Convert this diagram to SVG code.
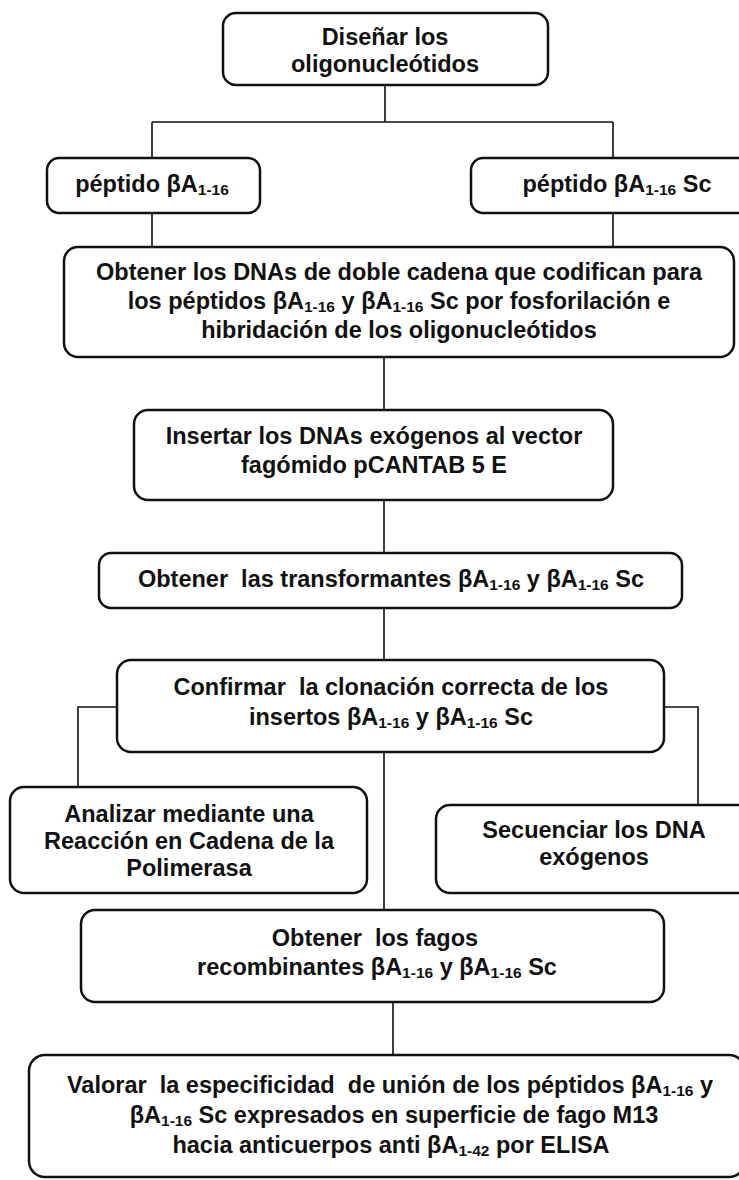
<svg xmlns="http://www.w3.org/2000/svg" width="739" height="1180" viewBox="0 0 739 1180">
<style>
.box{fill:#fff;stroke:#111;stroke-width:2.5}
.con{fill:none;stroke:#111;stroke-width:1.6}
text{font-family:"Liberation Sans",Arial,sans-serif;font-weight:bold;font-size:23.5px;fill:#111;text-anchor:middle}
.s{font-size:15.5px}
</style>
<rect width="739" height="1180" fill="#fff"/>
<g id="connectors">
<path class="con" d="M385,85V122M152,122H613M152,122V158M613,122V158"/>
<path class="con" d="M152,213V247M613,213V247"/>
<path class="con" d="M384,357V410"/>
<path class="con" d="M384,500V553"/>
<path class="con" d="M384,608V660"/>
<path class="con" d="M117,707H78V787M664,707H698V805M384,752V910"/>
<path class="con" d="M393,1002V1055"/>
</g>
<g id="n1">
<rect class="box" x="223" y="13" width="325" height="72" rx="13"/>
<text x="385" y="45">Diseñar los</text>
<text x="385" y="72">oligonucleótidos</text>
</g>
<g id="n2">
<rect class="box" x="47" y="158" width="213" height="55" rx="12"/>
<text x="152" y="192">péptido βA<tspan class="s" dy="3">1-16</tspan></text>
</g>
<g id="n3">
<rect class="box" x="471" y="158" width="300" height="55" rx="12"/>
<text x="617" y="192">péptido βA<tspan class="s" dy="3">1-16</tspan><tspan dy="-3"> Sc</tspan></text>
</g>
<g id="n4">
<rect class="box" x="64" y="247" width="670" height="110" rx="14"/>
<text x="399" y="280">Obtener los DNAs de doble cadena que codifican para</text>
<text x="399" y="309">los péptidos βA<tspan class="s" dy="3">1-16</tspan><tspan dy="-3"> y βA</tspan><tspan class="s" dy="3">1-16</tspan><tspan dy="-3"> Sc por fosforilación e</tspan></text>
<text x="399" y="338">hibridación de los oligonucleótidos</text>
</g>
<g id="n5">
<rect class="box" x="134" y="410" width="479" height="90" rx="14"/>
<text x="374" y="444">Insertar los DNAs exógenos al vector</text>
<text x="374" y="473">fagómido pCANTAB 5 E</text>
</g>
<g id="n6">
<rect class="box" x="99" y="553" width="583" height="55" rx="12"/>
<text x="391" y="587" xml:space="preserve">Obtener  las transformantes βA<tspan class="s" dy="3">1-16</tspan><tspan dy="-3"> y βA</tspan><tspan class="s" dy="3">1-16</tspan><tspan dy="-3"> Sc</tspan></text>
</g>
<g id="n7">
<rect class="box" x="117" y="660" width="547" height="92" rx="14"/>
<text x="391" y="695" xml:space="preserve">Confirmar  la clonación correcta de los</text>
<text x="391" y="725">insertos βA<tspan class="s" dy="3">1-16</tspan><tspan dy="-3"> y βA</tspan><tspan class="s" dy="3">1-16</tspan><tspan dy="-3"> Sc</tspan></text>
</g>
<g id="n8">
<rect class="box" x="10" y="787" width="357" height="106" rx="14"/>
<text x="189" y="822">Analizar mediante una</text>
<text x="189" y="849">Reacción en Cadena de la</text>
<text x="189" y="876">Polimerasa</text>
</g>
<g id="n9">
<rect class="box" x="436" y="805" width="330" height="88" rx="14"/>
<text x="594" y="838">Secuenciar los DNA</text>
<text x="594" y="865">exógenos</text>
</g>
<g id="n10">
<rect class="box" x="81" y="910" width="583" height="92" rx="14"/>
<text x="375" y="946" xml:space="preserve">Obtener  los fagos</text>
<text x="377" y="975">recombinantes βA<tspan class="s" dy="3">1-16</tspan><tspan dy="-3"> y βA</tspan><tspan class="s" dy="3">1-16</tspan><tspan dy="-3"> Sc</tspan></text>
</g>
<g id="n11">
<rect class="box" x="29" y="1055" width="716" height="122" rx="16"/>
<text x="390" y="1093" xml:space="preserve">Valorar  la especificidad  de unión de los péptidos βA<tspan class="s" dy="3">1-16</tspan><tspan dy="-3"> y</tspan></text>
<text x="394" y="1123">βA<tspan class="s" dy="3">1-16</tspan><tspan dy="-3"> Sc expresados en superficie de fago M13</tspan></text>
<text x="391" y="1153">hacia anticuerpos anti βA<tspan class="s" dy="3">1-42</tspan><tspan dy="-3"> por ELISA</tspan></text>
</g>
</svg>
